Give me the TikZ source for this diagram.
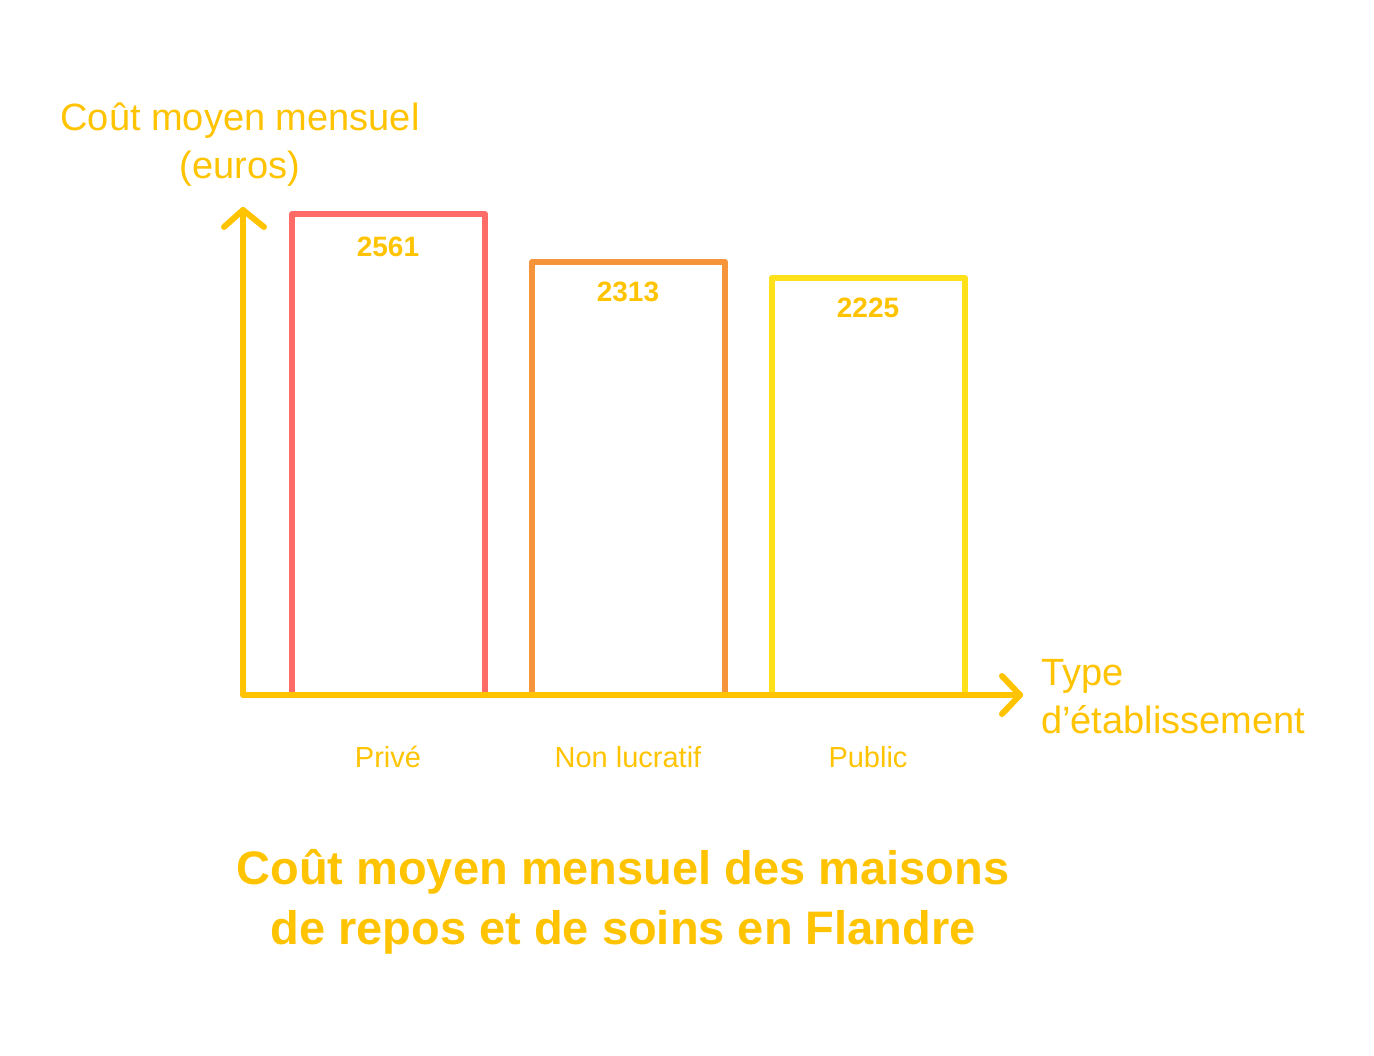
\documentclass[tikz,border=0pt]{standalone}
\usepackage{fontspec}
\setmainfont{Liberation Sans}
\begin{document}
\begin{tikzpicture}[x=1pt,y=-1pt,
  txt/.style={text=axc,inner sep=0pt,align=center},
  barbox/.style={line width=6pt,line join=round}]
\definecolor{axc}{HTML}{FFC300}
\definecolor{redc}{HTML}{FF6B66}
\definecolor{orac}{HTML}{F5943A}
\definecolor{yelc}{HTML}{FFE119}
\useasboundingbox[fill=white] (0,0) rectangle (1374,1056);
\draw[barbox,redc] (292,693) -- (292,214) -- (485,214) -- (485,693);
\draw[barbox,orac] (532,693) -- (532,262) -- (725,262) -- (725,693);
\draw[barbox,yelc] (772,693) -- (772,278) -- (965,278) -- (965,693);
\coordinate (o) at (243,695);
\coordinate (yt) at (243,210);
\coordinate (xt) at (1020,695);
\draw[axc,line width=6pt,line cap=round,line join=round] (yt) -- (o) -- (xt);
\draw[axc,line width=6pt,line cap=round,line join=round] (224,227) -- (yt) -- (264,227);
\draw[axc,line width=6pt,line cap=round,line join=round] (1002,676) -- (xt) -- (1002,714);
\node[txt,font=\bfseries\fontsize{28}{30}\selectfont] (v1) at (388,247) {2561};
\node[txt,font=\bfseries\fontsize{28}{30}\selectfont] (v2) at (628,292) {2313};
\node[txt,font=\bfseries\fontsize{28}{30}\selectfont] (v3) at (868,308) {2225};
\node[txt,font=\fontsize{29}{30}\selectfont] (c1) at (388,757) {Privé};
\node[txt,font=\fontsize{29}{30}\selectfont] (c2) at (628,757) {Non lucratif};
\node[txt,font=\fontsize{29}{30}\selectfont] (c3) at (868,757) {Public};
\node[txt,font=\fontsize{38}{48}\selectfont] (yl) at (240,145) {Coût moyen mensuel\\(euros)};
\node[txt,align=left,anchor=west,font=\fontsize{38}{48}\selectfont] (xl) at (1041,697) {Type\\d{\char"0027}établissement};
\node[txt,font=\bfseries\fontsize{47}{60}\selectfont] (t) at (623,902) {Coût moyen mensuel des maisons\\de repos et de soins en Flandre};
\end{tikzpicture}
\end{document}
